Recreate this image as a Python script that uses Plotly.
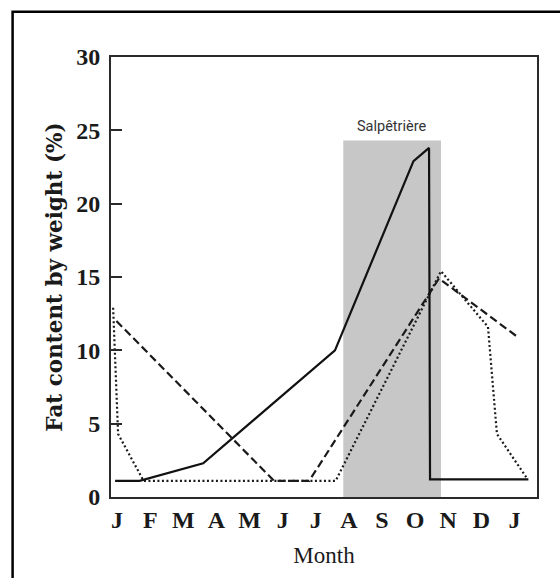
import plotly.graph_objects as go

# Month positions (0 = January of year one, 12 = January of the next year)
month_ticks = list(range(13))
month_labels = ["J", "F", "M", "A", "M", "J", "J", "A", "S", "O", "N", "D", "J"]

# Fat content (% by weight) for the three series
solid_x = [-0.06, 0.68, 2.6, 6.58, 8.95, 9.42, 9.45, 12.42]
solid_y = [1.1, 1.1, 2.3, 10.0, 22.9, 23.8, 1.2, 1.2]

dashed_x = [-0.02, 4.74, 5.8, 9.72, 12.1]
dashed_y = [12.0, 1.1, 1.1, 14.9, 10.9]

dotted_x = [-0.12, 0.03, 0.8, 6.6, 9.78, 11.2, 11.47, 12.4]
dotted_y = [12.9, 4.3, 1.1, 1.1, 15.4, 11.6, 4.3, 1.2]

# Salpêtrière period band
band_x = [6.83, 9.78]
band_top = 24.3
band_label = "Salpêtrière"

fig = go.Figure()

fig.add_shape(type="rect", xref="x", yref="y",
              x0=band_x[0], x1=band_x[1], y0=0, y1=band_top,
              fillcolor="#c7c7c7", line=dict(width=0), layer="below")

fig.add_trace(go.Scatter(x=dotted_x, y=dotted_y, mode="lines",
                         line=dict(color="#1a1a1a", width=2.2, dash="2px,2.5px"),
                         showlegend=False))
fig.add_trace(go.Scatter(x=dashed_x, y=dashed_y, mode="lines",
                         line=dict(color="#1a1a1a", width=2.2, dash="8px,4px"),
                         showlegend=False))
fig.add_trace(go.Scatter(x=solid_x, y=solid_y, mode="lines",
                         line=dict(color="#111111", width=2.2),
                         showlegend=False))

fig.add_annotation(x=(band_x[0] + band_x[1]) / 2, y=25.25, xref="x", yref="y",
                   text=band_label, showarrow=False,
                   font=dict(family="Roboto", size=14.5, color="#333333"))

# Outer frame around the whole figure
fig.add_shape(type="rect", xref="paper", yref="paper",
              x0=-0.231, x1=1.08, y0=-0.25, y1=1.103,
              line=dict(color="black", width=2.5), fillcolor="rgba(0,0,0,0)")

fig.update_layout(
    width=560, height=578,
    margin=dict(l=111, r=23, t=57, b=81),
    paper_bgcolor="white", plot_bgcolor="white",
    xaxis=dict(
        range=[-0.184, 12.68], tickvals=month_ticks, ticktext=month_labels,
        ticks="", showgrid=False, zeroline=False,
        showline=True, mirror=True, linecolor="#2a2a2a", linewidth=2,
        tickfont=dict(family="Liberation Serif", size=24, color="#1a1a1a", weight="bold"),
        title=dict(text="Month", standoff=15,
                   font=dict(family="Liberation Serif", size=23, color="#1a1a1a")),
    ),
    yaxis=dict(
        range=[0, 30], tickvals=[0, 5, 10, 15, 20, 25, 30],
        ticks="inside", ticklen=11, tickwidth=1.5, tickcolor="#2a2a2a",
        ticklabelstandoff=4,
        showgrid=False, zeroline=False,
        showline=True, mirror=True, linecolor="#2a2a2a", linewidth=2,
        tickfont=dict(family="Liberation Serif", size=24, color="#1a1a1a", weight="bold"),
        title=dict(text="Fat content by weight (%)", standoff=8,
                   font=dict(family="DejaVu Serif", size=21.5, color="#1a1a1a", weight="bold")),
    ),
)

fig.write_html("out.html")
